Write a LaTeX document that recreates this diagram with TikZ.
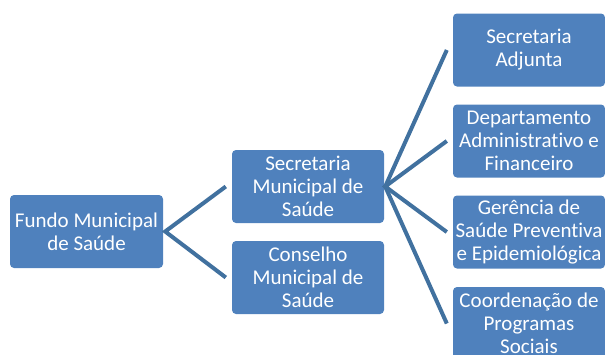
\documentclass[tikz,border=0pt]{standalone}
\usepackage{fontspec}
\setmainfont{Carlito}[Ligatures=NoCommon]
\usetikzlibrary{calc}
\definecolor{boxblue}{HTML}{4F81BD}
\definecolor{linkblue}{HTML}{41719F}
\tikzset{
  orgbox/.style={rectangle, rounded corners=4pt, fill=boxblue, text=white,
    minimum width=152pt, minimum height=73pt, inner sep=0pt, align=center,
    font=\fontsize{21}{23}\selectfont},
  link/.style={draw=linkblue, line width=4pt, line join=miter}
}
\begin{document}
\begin{tikzpicture}[x=1pt,y=-1pt]
\useasboundingbox (0,0) rectangle (605,354);
\node[orgbox, minimum width=153pt] (fundo) at (86.5,231.5) {Fundo Municipal\\de Saúde};
\node[orgbox] (smun) at (308,186.5) {Secretaria\\Municipal de\\Saúde};
\node[orgbox] (cons) at (308,277.5) {Conselho\\Municipal de\\Saúde};
\node[orgbox] (adj) at (529,50) {Secretaria\\Adjunta};
\node[orgbox] (dep) at (529,141) {Departamento\\Administrativo e\\Financeiro};
\node[orgbox] (ger) at (529,232) {Gerência de\\Saúde Preventiva\\e Epidemiológica};
\node[orgbox] (coo) at (529,323.5) {Coordenação de\\Programas\\Sociais};
\coordinate (a1) at ($(fundo.east)+(2,0)$);
\coordinate (e1) at ($(smun.west)+(-6,0)$);
\coordinate (e2) at ($(cons.west)+(-6,0)$);
\draw[link] (e1) -- (a1) -- (e2);
\coordinate (a2) at ($(smun.east)+(1,0)$);
\coordinate (f1) at ($(adj.west)+(-6,0)$);
\coordinate (f2) at ($(dep.west)+(-6,0)$);
\coordinate (f3) at ($(ger.west)+(-6,0)$);
\coordinate (f4) at ($(coo.west)+(-6,0)$);
\draw[link] (f1) -- (a2) -- (f4);
\draw[link] (f2) -- (a2) -- (f3);
\end{tikzpicture}
\end{document}
